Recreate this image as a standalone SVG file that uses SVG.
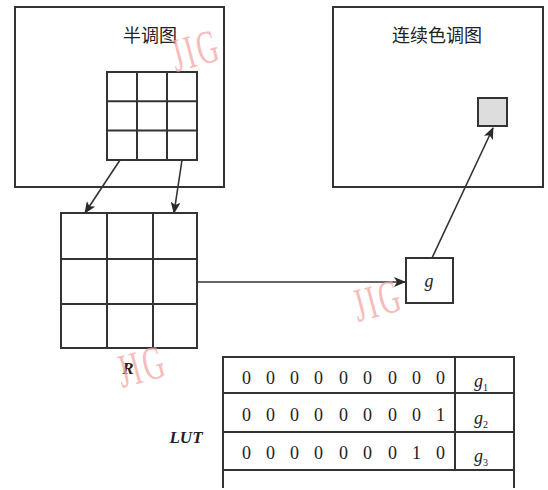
<svg xmlns="http://www.w3.org/2000/svg" width="548" height="490" viewBox="0 0 548 490">
<defs>
<marker id="ah" markerWidth="12" markerHeight="10" refX="11" refY="5" orient="auto" markerUnits="userSpaceOnUse">
<path d="M0,0 L12,5 L0,10 L3,5 Z" fill="#2a2a2a"/>
</marker>
<style>
.b{fill:none;stroke:#333;stroke-width:2}
.ln{fill:none;stroke:#333;stroke-width:1.6}
.cn{font-family:"Noto Sans CJK SC","Noto Sans CJK JP",sans-serif;font-size:18px;fill:#222}
.d{font-family:"Liberation Serif",serif;font-size:18px;fill:#222}
.bi{font-family:"Liberation Serif",serif;font-weight:bold;font-style:italic;font-size:17px;fill:#222}
.it{font-family:"Liberation Serif",serif;font-style:italic;font-size:18px;fill:#222}
.sub{font-style:normal;font-size:10px}
.wm{font-family:"Liberation Serif",serif;font-size:34px;fill:#f4a6a6;opacity:0.75;letter-spacing:3px}
</style>
</defs>
<rect width="548" height="490" fill="#fff"/>
<g id="halftone">
<rect class="b" x="15" y="7" width="209" height="180"/>
<text class="cn" x="150" y="42" text-anchor="middle">半调图</text>
<g id="small-grid">
<rect class="b" x="107" y="72" width="90" height="88"/>
<path class="b" d="M137,72V160M167,72V160M107,101.3H197M107,130.6H197"/>
</g>
</g>
<g id="contone">
<rect class="b" x="333" y="7" width="210" height="180"/>
<text class="cn" x="437" y="42" text-anchor="middle">连续色调图</text>
<rect x="478" y="98" width="29" height="28" fill="#ddd" stroke="#333" stroke-width="2"/>
</g>
<g id="R">
<rect class="b" x="61" y="213" width="136" height="135"/>
<path class="b" d="M107,213V348M153,213V348M61,259H197M61,304H197"/>
<text class="bi" x="128" y="374" text-anchor="middle">R</text>
</g>
<g id="g">
<rect class="b" x="406" y="258" width="47" height="45"/>
<text class="it" x="429" y="287" text-anchor="middle">g</text>
</g>
<g id="LUT">
<text class="bi" x="186" y="443" text-anchor="middle">LUT</text>
<path class="b" d="M223,488V357H514V488M455,357V470M223,393H514M223,432H514M223,470H514"/>
<text class="d" y="384"><tspan x="242">0</tspan><tspan x="266">0</tspan><tspan x="290">0</tspan><tspan x="314">0</tspan><tspan x="339">0</tspan><tspan x="363">0</tspan><tspan x="388">0</tspan><tspan x="412">0</tspan><tspan x="436">0</tspan></text>
<text class="d" y="421"><tspan x="242">0</tspan><tspan x="266">0</tspan><tspan x="290">0</tspan><tspan x="314">0</tspan><tspan x="339">0</tspan><tspan x="363">0</tspan><tspan x="388">0</tspan><tspan x="412">0</tspan><tspan x="436">1</tspan></text>
<text class="d" y="459"><tspan x="242">0</tspan><tspan x="266">0</tspan><tspan x="290">0</tspan><tspan x="314">0</tspan><tspan x="339">0</tspan><tspan x="363">0</tspan><tspan x="388">0</tspan><tspan x="412">1</tspan><tspan x="436">0</tspan></text>
<text class="it" x="474" y="387" font-size="16">g<tspan class="sub" dy="4">1</tspan></text>
<text class="it" x="474" y="424" font-size="16">g<tspan class="sub" dy="4">2</tspan></text>
<text class="it" x="474" y="462" font-size="16">g<tspan class="sub" dy="4">3</tspan></text>
</g>
<g id="connectors">
<line class="ln" x1="120" y1="160" x2="85" y2="213" marker-end="url(#ah)"/>
<line class="ln" x1="182" y1="160" x2="174" y2="213" marker-end="url(#ah)"/>
<line class="ln" x1="197" y1="282" x2="405" y2="282" marker-end="url(#ah)"/>
<line class="ln" x1="432" y1="258" x2="493" y2="128" marker-end="url(#ah)"/>
</g>
<g id="watermarks">
<text class="wm" transform="translate(176,72) rotate(-15) scale(0.85,1.4)">JIG</text>
<text class="wm" transform="translate(358,322) rotate(-15) scale(0.85,1.4)">JIG</text>
<text class="wm" transform="translate(122,388) rotate(-15) scale(0.85,1.4)">JIG</text>
</g>
</svg>
